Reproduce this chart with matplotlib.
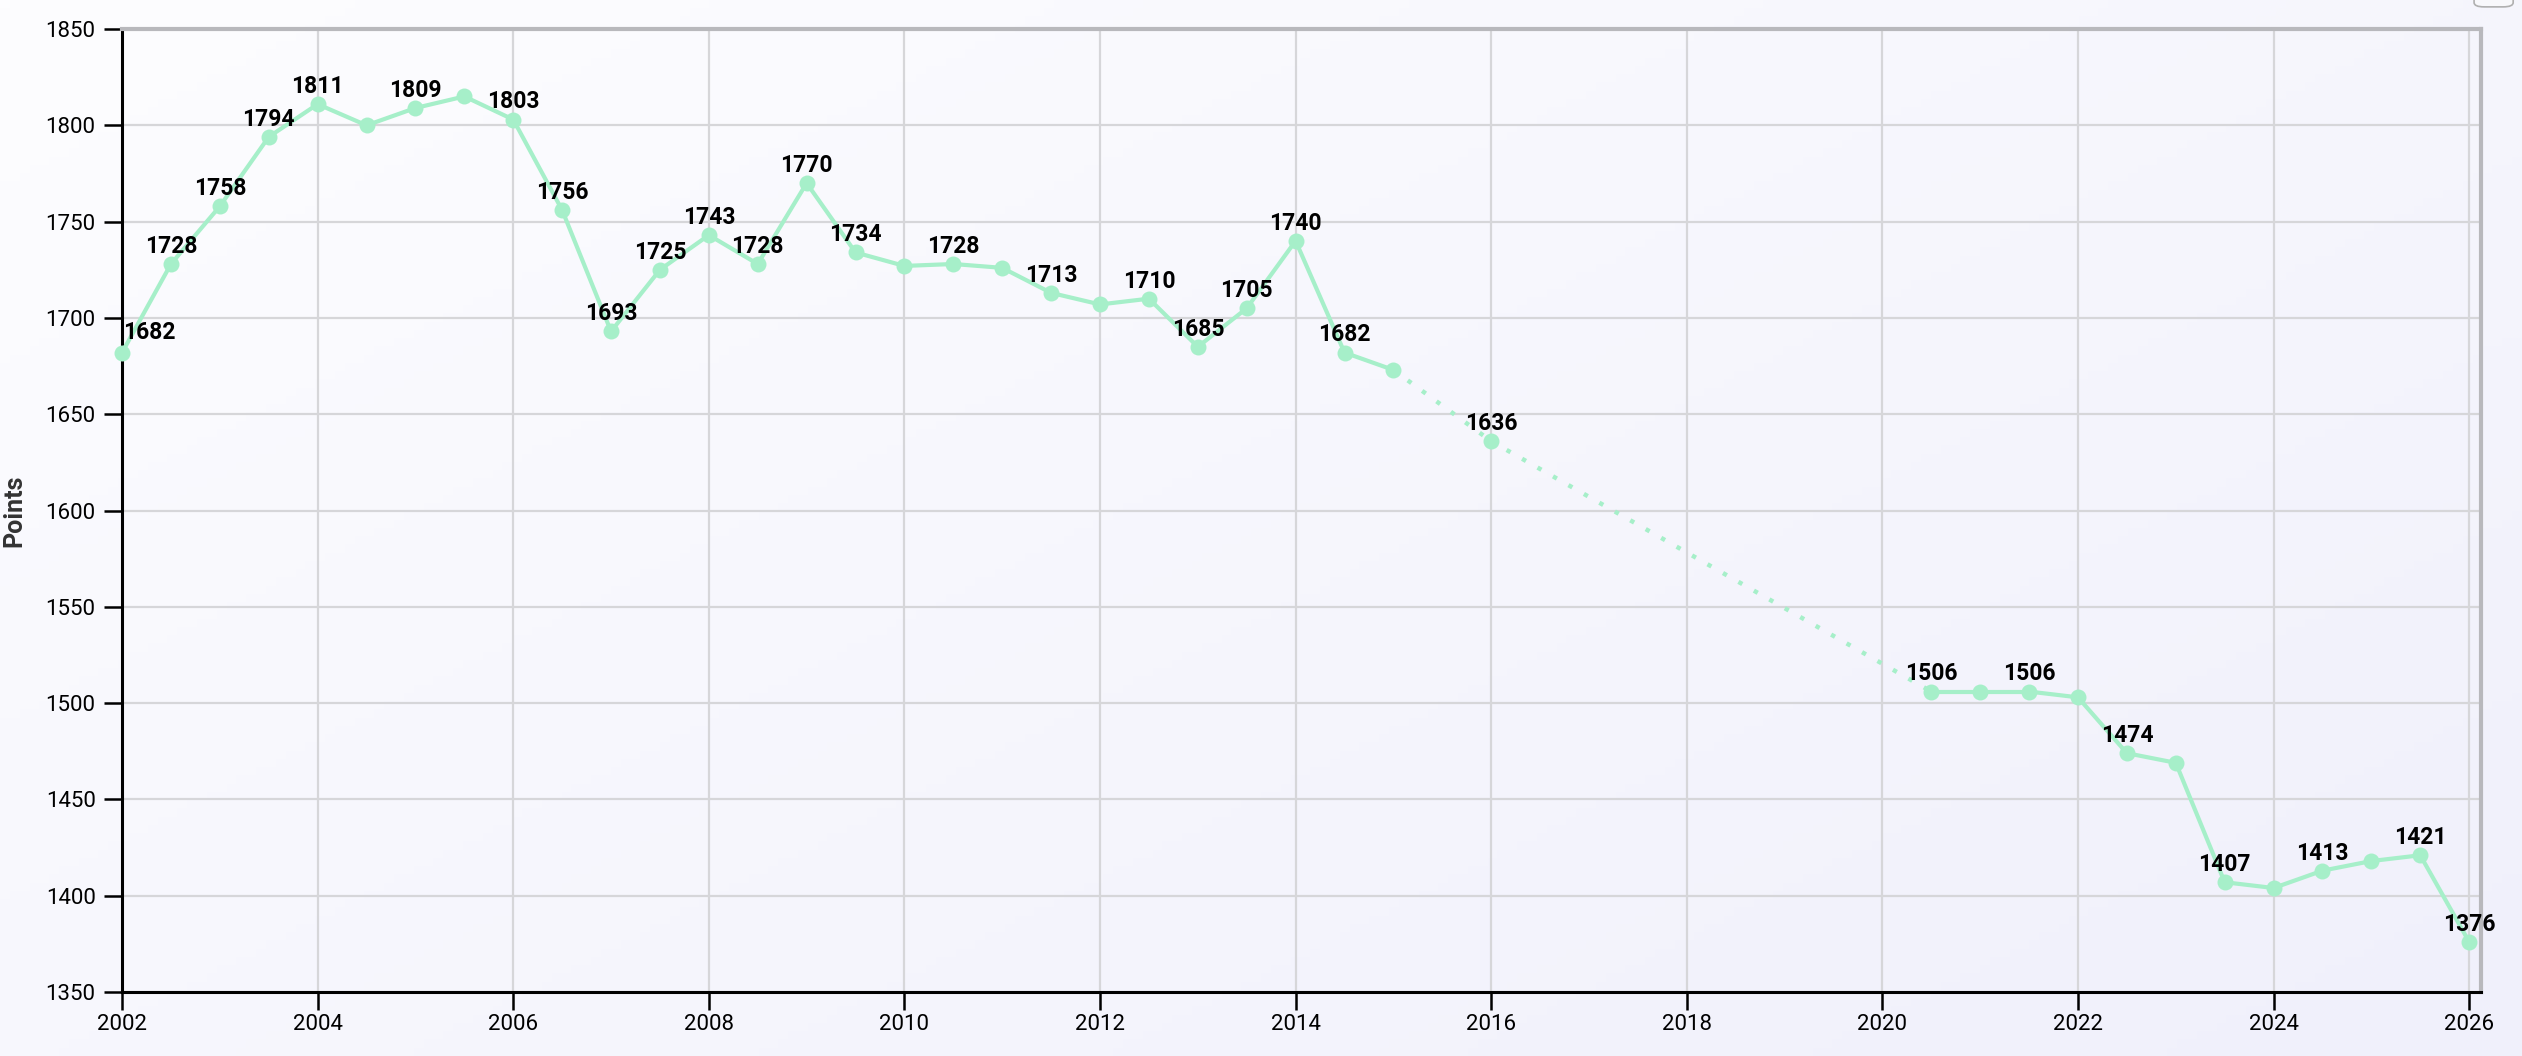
import matplotlib
matplotlib.use("Agg")
import matplotlib.pyplot as plt
from matplotlib.patches import FancyBboxPatch
import numpy as np

# ---- data ----
years = [2002.0, 2002.5, 2003.0, 2003.5, 2004.0, 2004.5, 2005.0, 2005.5, 2006.0, 2006.5,
         2007.0, 2007.5, 2008.0, 2008.5, 2009.0, 2009.5, 2010.0, 2010.5, 2011.0, 2011.5,
         2012.0, 2012.5, 2013.0, 2013.5, 2014.0, 2014.5, 2015.0, 2016.0,
         2020.5, 2021.0, 2021.5, 2022.0, 2022.5, 2023.0, 2023.5, 2024.0, 2024.5, 2025.0,
         2025.5, 2026.0]
points = [1682, 1728, 1758, 1794, 1811, 1800, 1809, 1815, 1803, 1756,
          1693, 1725, 1743, 1728, 1770, 1734, 1727, 1728, 1726, 1713,
          1707, 1710, 1685, 1705, 1740, 1682, 1673, 1636,
          1506, 1506, 1506, 1503, 1474, 1469, 1407, 1404, 1413, 1418,
          1421, 1376]
show_label = [1, 1, 1, 1, 1, 0, 1, 0, 1, 1,
              1, 1, 1, 1, 1, 1, 0, 1, 0, 1,
              0, 1, 1, 1, 1, 1, 0, 1,
              1, 0, 1, 0, 1, 0, 1, 0, 1, 0,
              1, 1]
x_ticks = [2002, 2004, 2006, 2008, 2010, 2012, 2014, 2016, 2018, 2020, 2022, 2024, 2026]
y_ticks = [1350, 1400, 1450, 1500, 1550, 1600, 1650, 1700, 1750, 1800, 1850]
y_label = "Points"

LINE = "#a6efc9"
FONT = ["Roboto", "DejaVu Sans"]

fig = plt.figure(figsize=(25.22, 10.56), dpi=100)
fig.patch.set_facecolor("#f6f6fb")

# soft diagonal background gradient
bg = fig.add_axes([0, 0, 1, 1], zorder=-10)
gx, gy = np.meshgrid(np.linspace(0, 1, 256), np.linspace(0, 1, 128))
t = np.clip(0.55 * gx + 0.45 * gy, 0, 1)
c0 = np.array([0xfd, 0xfd, 0xff]) / 255.0
c1 = np.array([0xf0, 0xf0, 0xfb]) / 255.0
img = c0[None, None, :] * (1 - t[..., None]) + c1[None, None, :] * t[..., None]
bg.imshow(img, aspect="auto", extent=[0, 1, 0, 1], origin="upper")
bg.set_axis_off()

ax = fig.add_axes([0.0484, 0.0606, 0.9353, 0.9119])
ax.set_facecolor("none")

ax.set_xlim(2002, 2026.12)
ax.set_ylim(1350, 1850)

# grid
ax.set_xticks(x_ticks)
ax.set_yticks(y_ticks)
ax.grid(True, color="#d6d6d9", linewidth=1.6, zorder=0)
ax.set_axisbelow(True)

# lines: solid for consecutive half-year points, dotted for gaps
for i in range(len(years) - 1):
    x0, x1 = years[i], years[i + 1]
    y0, y1 = points[i], points[i + 1]
    if x1 - x0 <= 0.51:
        ax.plot([x0, x1], [y0, y1], color=LINE, lw=3.0, solid_capstyle="round", zorder=3)
    else:
        ax.plot([x0, x1], [y0, y1], color=LINE, lw=3.2, linestyle=(0, (1, 3.0)), zorder=3)

ax.plot(years, points, linestyle="none", marker="o", markersize=11.5,
        color=LINE, markeredgewidth=0, zorder=4, clip_on=False)

for x, y, s in zip(years, points, show_label):
    if not s:
        continue
    if x == years[0]:
        ax.annotate(str(y), (x, y), xytext=(1, 10), textcoords="offset points",
                    ha="left", va="baseline", fontsize=16.5, fontweight="bold",
                    family=FONT, color="#000000", zorder=5)
    else:
        ax.annotate(str(y), (x, y), xytext=(0, 8), textcoords="offset points",
                    ha="center", va="baseline", fontsize=16.5, fontweight="bold",
                    family=FONT, color="#000000", zorder=5)

# spines
for s in ["left", "bottom"]:
    ax.spines[s].set_color("#000000")
    ax.spines[s].set_linewidth(2.2)
for s in ["top", "right"]:
    ax.spines[s].set_color("#b8b8bc")
    ax.spines[s].set_linewidth(3)

ax.tick_params(axis="both", direction="out", length=13, width=1.8, color="#000000",
               labelsize=16)
ax.tick_params(axis="y", pad=6)
ax.tick_params(axis="x", pad=3)
for lab in ax.get_xticklabels() + ax.get_yticklabels():
    lab.set_family(FONT)
    lab.set_color("#000000")

ax.set_ylabel(y_label, fontsize=18, fontweight="bold", family=FONT, color="#333333")
ax.yaxis.set_label_coords(-0.0405, 0.5)

# partial button at top right
btn = FancyBboxPatch((0.9810, 0.9935), 0.0155, 0.02, boxstyle="round,pad=0,rounding_size=0.004",
                     transform=fig.transFigure, facecolor="#f8f8fb", edgecolor="#b0b0b0",
                     linewidth=1.2)
fig.patches.append(btn)

fig.savefig("out.png", dpi=100, facecolor=fig.get_facecolor())
